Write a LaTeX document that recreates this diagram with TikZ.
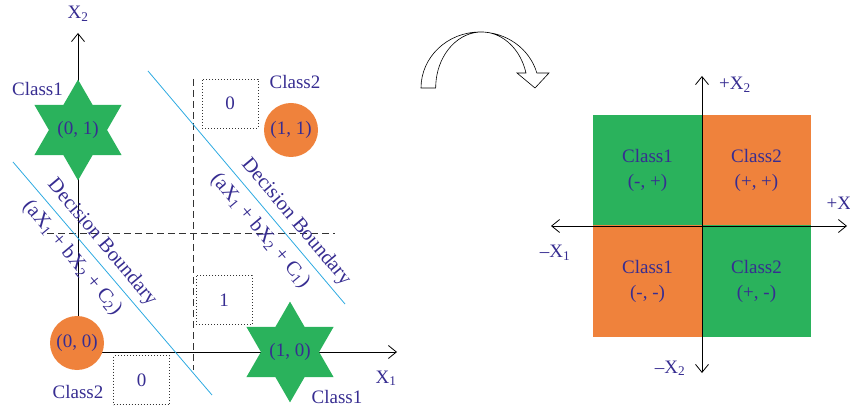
\documentclass[tikz,border=0pt]{standalone}
\usepackage{fontspec}
\setmainfont{Liberation Serif}
\usetikzlibrary{positioning,arrows.meta,shapes.geometric}
\definecolor{cgreen}{RGB}{42,178,92}
\definecolor{corange}{RGB}{239,130,60}
\definecolor{cline}{RGB}{45,170,225}
\definecolor{ctext}{RGB}{55,45,145}

\begin{document}
\begin{tikzpicture}[x=1pt, y=-1pt,
  every node/.style={font=\fontsize{19}{25}\selectfont, text=ctext, align=center},
  >={Straight Barb[length=8pt,width=13pt]},
  axis/.style ={line width=0.8pt, black},
  split/.style={line width=0.8pt, black!80, dash pattern=on 7pt off 4pt},
  bnd/.style  ={line width=0.8pt, cline},
  bndtxt/.style={rotate=-50, inner sep=0pt, font=\fontsize{20.5}{25}\selectfont},
  star6/.style={star, star points=6, star point ratio=1.732, minimum size=92pt, inner sep=0pt, fill=cgreen},
  dot/.style  ={circle, minimum size=54pt, inner sep=0pt, fill=corange},
  dbox/.style ={draw=black!80, line width=0.8pt, dash pattern=on 0.8pt off 2.2pt, inner sep=0pt, minimum width=56pt, minimum height=49pt},
  quad/.style ={inner sep=0pt, minimum width=109pt, minimum height=111pt},
]
\useasboundingbox (0,0) rectangle (850,411);

% left: the four points
\coordinate (o)    at (78,352);
\coordinate (ytop) at (78,33);
\coordinate (xend) at (397,352);
\draw[axis,->] (o) -- (ytop);
\draw[axis,->] (o) -- (xend);
\node[anchor=base] (lx2) at (78,19)  {X\textsubscript{2}};
\node[anchor=base] (lx1) at (386,383) {X\textsubscript{1}};

\coordinate (vtop) at (193,79);
\coordinate (vbot) at (193,370);
\coordinate (hl)   at (47,233);
\coordinate (hr)   at (335,233);
\draw[split] (vtop) -- (vbot);
\draw[split] (hl) -- (hr);

\coordinate (b1s) at (148,71);
\coordinate (b1e) at (345,304);
\coordinate (b2s) at (13,162);
\coordinate (b2e) at (212,395);
\draw[bnd] (b1s) -- (b1e);
\draw[bnd] (b2s) -- (b2e);
\node[bndtxt] (db1) at (296,222)   {Decision Boundary};
\node[bndtxt] (eq1) at (260,231)   {(aX\textsubscript{1} + bX\textsubscript{2} + C\textsubscript{1})};
\node[bndtxt] (db2) at (102,242.5) {Decision Boundary};
\node[bndtxt] (eq2) at (72,258)    {(aX\textsubscript{1} + bX\textsubscript{2} + C\textsubscript{2})};

\node[star6] (p01) at (78,130)  {(0, 1)};
\node[star6] (p10) at (290,352) {(1, 0)};
\node[dot]   (p00) at (77,343)  {(0, 0)};
\node[dot]   (p11) at (291,130) {(1, 1)};

\node[anchor=base] (c01) at (37.5,96) {Class1};
\node[anchor=base] (c11) at (295,89)  {Class2};
\node[anchor=base] (c00) at (78,398)  {Class2};
\node[anchor=base] (c10) at (337,403) {Class1};

\node[dbox] (o11) at (230,103.5) {0};
\node[dbox] (o10) at (224,300)   {1};
\node[dbox] (o00) at (141.5,380) {0};

% curved arrow
\draw[line width=0.6pt, fill=white] (421,88)
  arc[start angle=180, end angle=344.5, x radius=59, y radius=56]
  -- (549,73) -- (535,88) -- (517,73) -- (526,73)
  arc[start angle=344.5, end angle=180, x radius=46, y radius=56] -- cycle;

% right: quadrants
\node[quad, fill=cgreen]  (q1) at (647.5,170.5) {Class1\\(-, +)};
\node[quad, fill=corange] (q2) at (756.5,170.5) {Class2\\(+, +)};
\node[quad, fill=corange] (q3) at (647.5,281)   {Class1\\(-, -)};
\node[quad, fill=cgreen]  (q4) at (756.5,281)   {Class2\\(+, -)};

\coordinate (rl) at (551,226);
\coordinate (rr) at (847,226);
\coordinate (rt) at (702,76);
\coordinate (rb) at (702,373);
\draw[axis,<->] (rl) -- (rr);
\draw[axis,<->] (rt) -- (rb);

\node[anchor=base]      (rx2p) at (735,90)  {+X\textsubscript{2}};
\node[anchor=base west] (rx1p) at (823,210) {+X};
\node[anchor=base]      (rx1m) at (555,258) {–X\textsubscript{1}};
\node[anchor=base]      (rx2m) at (670,373) {–X\textsubscript{2}};

\end{tikzpicture}
\end{document}
